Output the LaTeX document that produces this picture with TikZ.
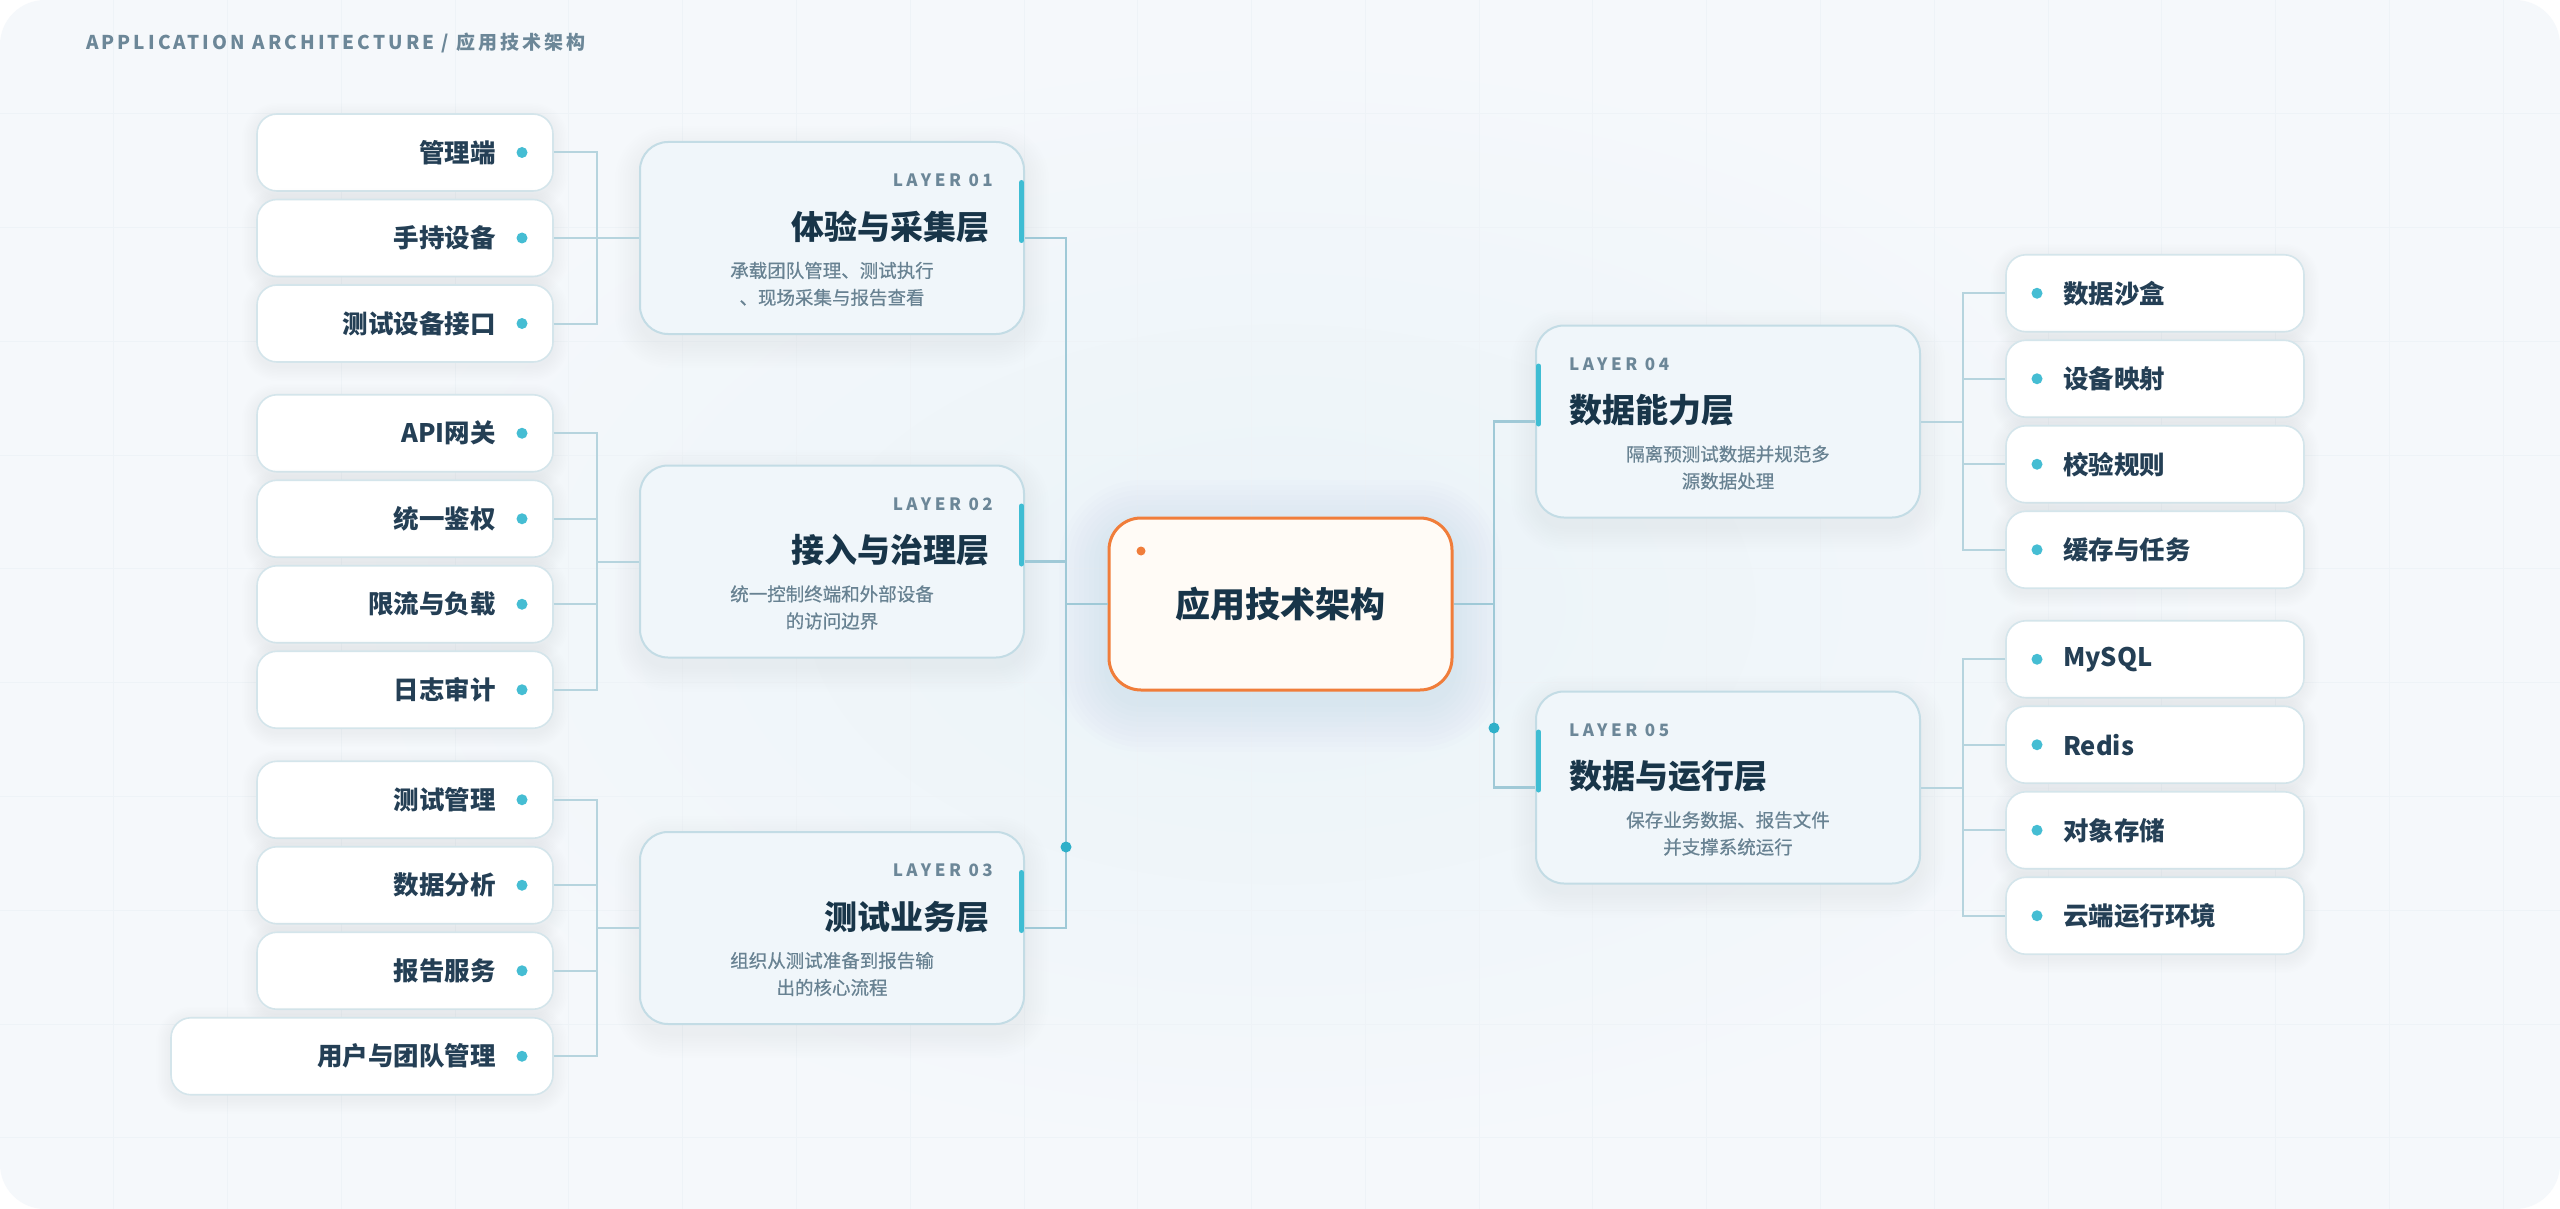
\documentclass[tikz,border=0pt]{standalone}
\usepackage{fontspec}
\setmainfont{Noto Sans CJK SC}
\newfontfamily\trackfont{Noto Sans CJK SC}[LetterSpace=16]
\newfontfamily\labelfont{Noto Sans CJK SC}[LetterSpace=21]
\newfontfamily\medfont{Noto Sans CJK SC}[FakeBold=0.6]
\usetikzlibrary{calc}
\definecolor{cardbg}{HTML}{F5F8FB}
\definecolor{glowbg}{HTML}{EAF3F8}
\definecolor{gridc}{HTML}{EEF3F7}
\definecolor{lineT}{HTML}{9FC9D7}
\definecolor{lineL}{HTML}{B6D4DE}
\definecolor{dotc}{HTML}{2FB0C9}
\definecolor{leafdot}{HTML}{45BDD3}
\definecolor{accent}{HTML}{3FBDD3}
\definecolor{layerfill}{HTML}{F0F6FA}
\definecolor{layerdraw}{HTML}{C3DCE5}
\definecolor{leafdraw}{HTML}{D4E5EB}
\definecolor{titlec}{HTML}{183549}
\definecolor{leaftext}{HTML}{243F55}
\definecolor{descc}{HTML}{688292}
\definecolor{labelc}{HTML}{6C8798}
\definecolor{orangec}{HTML}{F07D3A}
\definecolor{centerfill}{HTML}{FFFBF6}
\definecolor{shadowc}{HTML}{2E6E8E}
\tikzset{
  layerbox/.style={draw=layerdraw, line width=2pt, fill=layerfill, rounded corners=28pt, minimum width=384pt, minimum height=192pt, inner sep=0pt},
  leafbox/.style={draw=leafdraw, line width=1.6pt, fill=white, rounded corners=20pt, minimum height=77pt, inner sep=0pt},
  centerbox/.style={draw=orangec, line width=3pt, fill=centerfill, rounded corners=32pt, minimum width=343pt, minimum height=172pt, inner sep=0pt, font=\bfseries\fontsize{35}{40}\selectfont, text=titlec},
  leaftxt/.style={inner sep=0pt, font=\bfseries\fontsize{25.5}{30}\selectfont, text=leaftext},
  laytitle/.style={inner sep=0pt, font=\bfseries\fontsize{33}{38}\selectfont, text=titlec},
  laylabel/.style={inner sep=0pt, font=\labelfont\bfseries\fontsize{17}{20}\selectfont, text=labelc},
  laydesc/.style={inner sep=0pt, font=\medfont\fontsize{18.5}{27}\selectfont, text=descc, align=center},
  header/.style={inner sep=0pt, font=\trackfont\bfseries\fontsize{19}{24}\selectfont, text=labelc},
  trunkline/.style={draw=lineT, line width=2.2pt},
  leafline/.style={draw=lineL, line width=2pt},
  accentbar/.style={draw=accent, line width=5pt, line cap=round},
}
% cx cy w h r yshift opacity step
\newcommand{\softshadow}[8]{%
  \foreach \i in {1,...,10}{%
    \pgfmathsetmacro{\shE}{\i*#8}%
    \pgfmathsetmacro{\shR}{#5+\i*#8}%
    \fill[shadowc, opacity=#7, rounded corners=\shR pt]
      ({#1-#3/2-\shE},{#2-#4/2-\shE+#6}) rectangle ({#1+#3/2+\shE},{#2+#4/2+\shE+#6});
  }%
}
% name, cy, width, text
\newcommand{\leftleaf}[4]{%
  \softshadow{553-#3/2}{#2}{#3}{77}{20}{4}{0.0035}{1.5}
  \node[leafbox, minimum width=#3pt] (#1) at ({553-#3/2},#2) {};
  \node[leaftxt, anchor=east] (#1t) at (496,#2) {#4};
  \fill[leafdot] (522,#2) circle[radius=5.5pt];
}
\newcommand{\rightleaf}[3]{%
  \softshadow{2155}{#2}{298}{77}{20}{4}{0.0035}{1.5}
  \node[leafbox, minimum width=298pt] (#1) at (2155,#2) {};
  \node[leaftxt, anchor=west] (#1t) at (2063,#2) {#3};
  \fill[leafdot] (2037,#2) circle[radius=5.5pt];
}
% name, cy, label, title, desc
\newcommand{\leftlayer}[5]{%
  \softshadow{832}{#2}{384}{192}{28}{9}{0.0055}{2.5}
  \node[layerbox] (#1) at (832,#2) {};
  \draw[accentbar] (1021.5,{#2-96+40.5}) -- (1021.5,{#2-96+98.5});
  \node[laylabel, anchor=east] (#1l) at (993,{#2-96+38.5}) {#3};
  \node[laytitle, anchor=east] (#1t) at (990,{#2-96+85}) {#4};
  \node[laydesc] (#1d) at (832,{#2-96+142}) {#5};
}
\newcommand{\rightlayer}[5]{%
  \softshadow{1728}{#2}{384}{192}{28}{9}{0.0055}{2.5}
  \node[layerbox] (#1) at (1728,#2) {};
  \draw[accentbar] (1538.5,{#2-96+40.5}) -- (1538.5,{#2-96+98.5});
  \node[laylabel, anchor=west] (#1l) at (1569,{#2-96+38.5}) {#3};
  \node[laytitle, anchor=west] (#1t) at (1569,{#2-96+85}) {#4};
  \node[laydesc] (#1d) at (1728,{#2-96+142}) {#5};
}
\begin{document}
\begin{tikzpicture}[x=1pt, y=-1pt]
\useasboundingbox (0,0) rectangle (2560,1209);
\fill[white] (0,0) rectangle (2560,1209);
\begin{scope}
  \clip[rounded corners=45pt] (0,0) rectangle (2560,1209);
  \fill[cardbg] (0,0) rectangle (2560,1209);
  \shade[inner color=glowbg, outer color=cardbg] (1280,604) ellipse [x radius=950pt, y radius=560pt];
  \foreach \k in {1,...,22} \draw[gridc, line width=1pt] ({\k*113.78},0) -- ({\k*113.78},1209);
  \foreach \k in {1,...,10} \draw[gridc, line width=1pt] (0,{\k*113.78}) -- (2560,{\k*113.78});
\end{scope}

\node[header, anchor=west] (hdr) at (86,43) {APPLICATION ARCHITECTURE / 应用技术架构};

% center
\softshadow{1280.5}{604}{343}{172}{32}{12}{0.008}{5}
\node[centerbox] (C) at (1280.5,604) {应用技术架构};
\fill[orangec] (1141,551) circle[radius=4.5pt];

% layers
\leftlayer{L1}{238}{LAYER 01}{体验与采集层}{承载团队管理、测试执行\\、现场采集与报告查看}
\leftlayer{L2}{561.5}{LAYER 02}{接入与治理层}{统一控制终端和外部设备\\的访问边界}
\leftlayer{L3}{928}{LAYER 03}{测试业务层}{组织从测试准备到报告输\\出的核心流程}
\rightlayer{L4}{421.5}{LAYER 04}{数据能力层}{隔离预测试数据并规范多\\源数据处理}
\rightlayer{L5}{787.5}{LAYER 05}{数据与运行层}{保存业务数据、报告文件\\并支撑系统运行}

% leaves
\leftleaf{a1}{152.5}{296}{管理端}
\leftleaf{a2}{238}{296}{手持设备}
\leftleaf{a3}{323.5}{296}{测试设备接口}
\leftleaf{b1}{433.25}{296}{API网关}
\leftleaf{b2}{518.75}{296}{统一鉴权}
\leftleaf{b3}{604.25}{296}{限流与负载}
\leftleaf{b4}{689.75}{296}{日志审计}
\leftleaf{c1}{799.75}{296}{测试管理}
\leftleaf{c2}{885.25}{296}{数据分析}
\leftleaf{c3}{970.75}{296}{报告服务}
\leftleaf{c4}{1056.25}{382}{用户与团队管理}
\rightleaf{d1}{293.25}{数据沙盒}
\rightleaf{d2}{378.75}{设备映射}
\rightleaf{d3}{464.25}{校验规则}
\rightleaf{d4}{549.75}{缓存与任务}
\rightleaf{e1}{659.25}{MySQL}
\rightleaf{e2}{744.75}{Redis}
\rightleaf{e3}{830.25}{对象存储}
\rightleaf{e4}{915.75}{云端运行环境}

% bus coordinates
\coordinate (BA) at (597,238);
\coordinate (BB) at (597,561.5);
\coordinate (BC) at (597,928);
\coordinate (BD) at (1963,421.5);
\coordinate (BE) at (1963,787.5);
\coordinate (TL) at (1066,604);
\coordinate (TR) at (1494,604);

% leaf connectors
\foreach \n in {a1,a2,a3} \draw[leafline] (\n.east) -| (BA);
\draw[leafline] (BA) -- (L1.west);
\foreach \n in {b1,b2,b3,b4} \draw[leafline] (\n.east) -| (BB);
\draw[leafline] (BB) -- (L2.west);
\foreach \n in {c1,c2,c3,c4} \draw[leafline] (\n.east) -| (BC);
\draw[leafline] (BC) -- (L3.west);
\foreach \n in {d1,d2,d3,d4} \draw[leafline] (\n.west) -| (BD);
\draw[leafline] (BD) -- (L4.east);
\foreach \n in {e1,e2,e3,e4} \draw[leafline] (\n.west) -| (BE);
\draw[leafline] (BE) -- (L5.east);

% trunks
\foreach \n in {L1,L2,L3} \draw[trunkline] (\n.east) -| (TL);
\draw[trunkline] (TL) -- (C.west);
\draw[trunkline] (C.east) -- (TR);
\foreach \n in {L4,L5} \draw[trunkline] (TR) |- (\n.west);
\fill[dotc] (1066,847) circle[radius=5.5pt];
\fill[dotc] (1494,728) circle[radius=5.5pt];
\end{tikzpicture}
\end{document}
